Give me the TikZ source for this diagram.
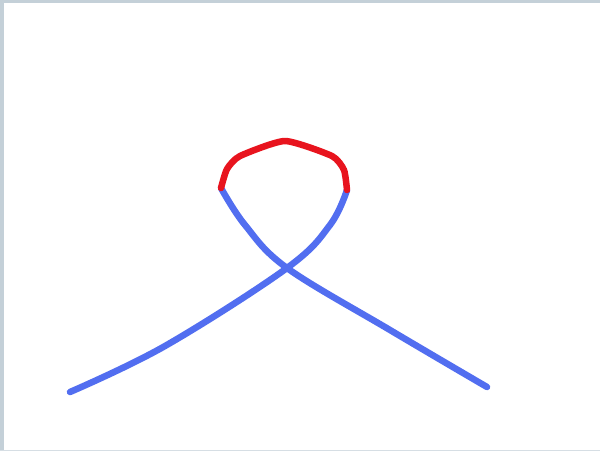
\documentclass[tikz,border=0pt]{standalone}
\begin{document}
\begin{tikzpicture}[x=1pt,y=-1pt,
  curve/.style={line width=6.5pt,line cap=round,line join=round},
  bluec/.style={curve,draw=blueline},
  redc/.style={curve,draw=redline}]
\definecolor{blueline}{RGB}{82,110,240}
\definecolor{redline}{RGB}{232,20,30}
\definecolor{framec}{RGB}{196,208,216}
\useasboundingbox (0,0) rectangle (600,451);
\fill[white] (0,0) rectangle (600,451);
\fill[framec] (0,0) rectangle (4,451);
\fill[framec] (0,0) rectangle (600,3);
\fill[framec!70] (0,450) rectangle (600,451);
\coordinate (L) at (70,392);
\coordinate (R) at (487,387);
\coordinate (X) at (287,268);
\coordinate (A) at (347,190);
\coordinate (B) at (221,188);
\draw[bluec] plot[smooth,tension=0.6] coordinates {(L) (165,346) (X) (330,225) (A)};
\draw[bluec] plot[smooth,tension=0.6] coordinates {(B) (245,225) (X) (390,330) (R)};
\draw[redc] plot[smooth,tension=0.35] coordinates {(A) (344,170) (332,156) (285,141) (240,156) (227,169) (B)};
\end{tikzpicture}
\end{document}
